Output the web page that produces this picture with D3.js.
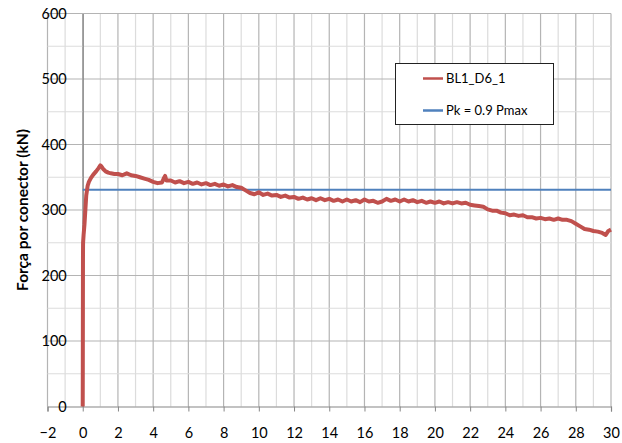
<!DOCTYPE html>
<html><head><meta charset="utf-8">
<script src="https://cdn.jsdelivr.net/npm/d3@7"></script>
<style>body{margin:0;background:#fff}svg{display:block}text{font-family:Lato,"Open Sans",sans-serif;fill:#000}</style>
</head><body>
<script>
const xTicks = [-2,0,2,4,6,8,10,12,14,16,18,20,22,24,26,28,30];
const yTicks = [0,100,200,300,400,500,600];
const seriesName = "BL1_D6_1";
const pkName = "Pk = 0.9 Pmax";
const pkValue = 331;
const slip = [0,0.005,0.01,0.015,0.02,0.05,0.1,0.15,0.2,0.28,0.35,0.47,0.6,0.76,0.9,1.0,1.05,1.15,1.3,1.45,1.6,1.8,
2.0,2.25,2.5,2.75,3.0,3.25,3.5,3.75,4.0,4.25,4.5,4.6,4.68,4.75,5.0,5.25,5.5,5.75,6.0,6.25,6.5,6.75,7.0,7.25,7.5,7.75,8.0,8.25,8.5,8.75,
9.0,9.25,9.5,9.75,10.0,10.25,10.5,10.75,11.0,11.25,11.5,11.75,12.0,12.25,12.5,12.75,13.0,13.25,13.5,13.75,14.0,14.25,14.5,14.75,
15.0,15.25,15.5,15.75,16.0,16.25,16.5,16.75,17.0,17.25,17.5,17.75,18.0,18.25,18.5,18.75,19.0,19.25,19.5,19.75,20.0,20.25,20.5,20.75,
21.0,21.25,21.5,21.75,22.0,22.25,22.5,22.75,23.0,23.25,23.5,23.75,24.0,24.25,24.5,24.75,25.0,25.25,25.5,25.75,26.0,26.25,26.5,26.75,
27.0,27.25,27.5,27.75,28.0,28.25,28.5,28.75,29.0,29.25,29.5,29.7,29.85,30.0];
const force = [0,60,150,230,250,262,278,300,322,337,343,349,354,359,364,368,367,363,359,357,356,355,
355,353,356,353,352,350,348,346,343,341,342,348,352,345,345,342,344,341,343,340,342,339,341,338,340,337,339,336,338,335,
334,330,326,324,327,323,325,322,323,320,322,319,320,317,319,316,318,315,318,315,317,314,316,313,
316,313,315,312,316,313,314,311,313,317,314,316,313,316,313,315,312,314,311,313,311,313,310,312,
310,312,310,311,308,307,306,305,301,299,299,296,295,292,293,291,292,289,289,287,288,286,287,285,
287,285,285,283,279,275,271,270,268,267,265,262,268,270];

const W=622,H=443;
const svg=d3.select("body").append("svg").attr("width",W).attr("height",H);
const x=d3.scaleLinear().domain([-2,30]).range([47.5,611]);
const y=d3.scaleLinear().domain([0,600]).range([406.5,13.5]);

const g=svg.append("g");
d3.range(-2,31,1).forEach(v=>{
  g.append("line").attr("x1",x(v)).attr("x2",x(v)).attr("y1",y(0)).attr("y2",y(600))
   .attr("stroke", v%2===0 ? "#b4b4b4" : "#dcdcdc").attr("stroke-width",1.2);
});
d3.range(50,601,50).forEach(v=>{
  g.append("line").attr("x1",x(-2)).attr("x2",x(30)).attr("y1",y(v)).attr("y2",y(v))
   .attr("stroke", v%100===0 ? "#b4b4b4" : "#dcdcdc").attr("stroke-width",1.2);
});
const xAxis=d3.axisBottom(x).tickValues(xTicks).tickSize(5).tickFormat(d3.format("d"));
const xa=svg.append("g").attr("transform",`translate(0,${y(0)})`).call(xAxis);
xa.select(".domain").attr("stroke","#868686").attr("stroke-width",1.2);
xa.selectAll(".tick line").attr("stroke","#868686");
xa.selectAll(".tick text").attr("font-size",14.5).attr("dy",0).attr("y",31).attr("font-family","Lato");
const yAxis=d3.axisLeft(y).tickValues(yTicks).tickSize(0).tickPadding(16);
const ya=svg.append("g").attr("transform",`translate(${x(0)},0)`).call(yAxis);
ya.select(".domain").attr("stroke","#868686").attr("stroke-width",1.2);
ya.selectAll(".tick text").attr("font-size",14.5).attr("font-family","Lato");

svg.append("line").attr("x1",x(0)).attr("x2",x(30)).attr("y1",y(pkValue)).attr("y2",y(pkValue))
 .attr("stroke","#4f81bd").attr("stroke-width",2);
const pts=slip.map((s,i)=>[s,force[i]]);
svg.append("path").datum(pts).attr("fill","none").attr("stroke","#c0504d").attr("stroke-width",4)
 .attr("stroke-linejoin","round")
 .attr("d",d3.line().x(d=>x(d[0])).y(d=>y(d[1])));

svg.append("text").attr("transform",`translate(28,${(y(0)+y(600))/2}) rotate(-90)`)
 .attr("text-anchor","middle").attr("font-weight","bold").attr("font-size",15.5).text("Força por conector (kN)");

const lg=svg.append("g");
lg.append("rect").attr("x",395.5).attr("y",63.5).attr("width",158).attr("height",61).attr("fill","#fff").attr("stroke","#222").attr("stroke-width",1);
[[seriesName,"#c0504d",78.5],[pkName,"#4f81bd",110.5]].forEach(([t,c,yy])=>{
  lg.append("line").attr("x1",423).attr("x2",443).attr("y1",yy).attr("y2",yy).attr("stroke",c).attr("stroke-width",2.5);
  lg.append("text").attr("x",446).attr("y",yy).attr("dy","0.35em").attr("font-size",13).text(t);
});
</script>
</body></html>
